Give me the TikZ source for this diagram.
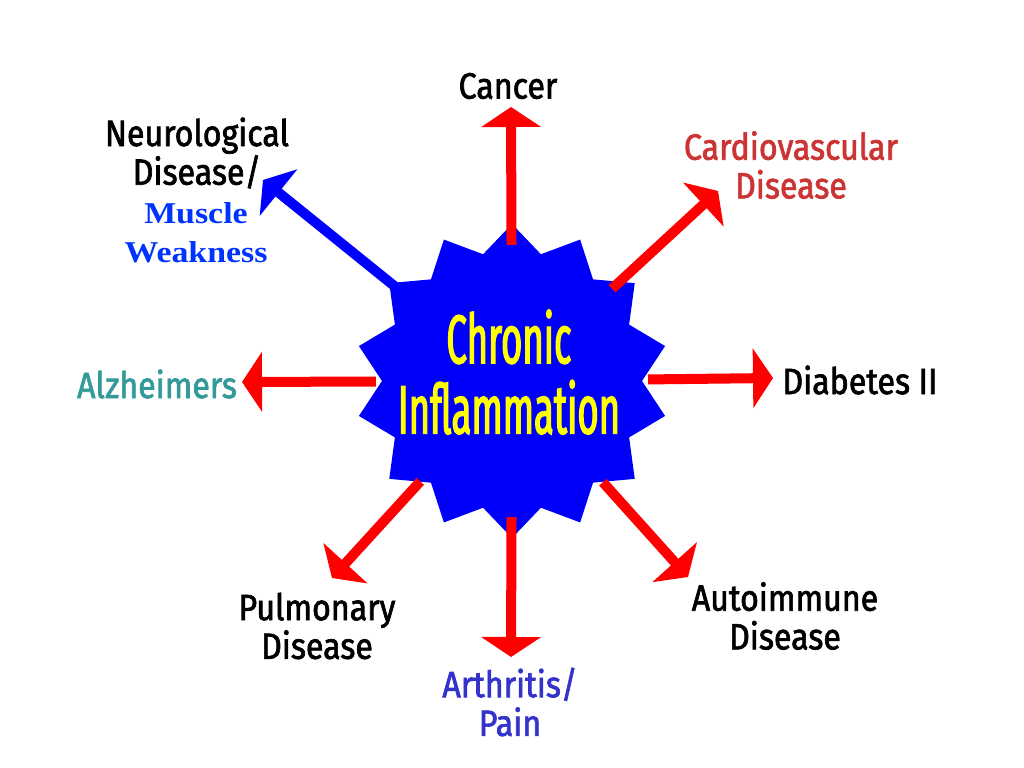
\documentclass[tikz,border=0pt]{standalone}
\usepackage{fontspec}
\setmainfont{Fira Sans}
\newfontfamily\labelfont{Fira Sans}[FakeStretch=0.88,FakeBold=1.8]
\newfontfamily\hubfont{Fira Sans}[FakeStretch=0.53,FakeBold=1.8]
\newfontfamily\weakfont{Liberation Serif}[FakeStretch=1.12]
\usetikzlibrary{arrows.meta}

\definecolor{starblue}{RGB}{0,0,250}
\definecolor{cardred}{RGB}{204,51,51}
\definecolor{alzteal}{RGB}{51,153,153}
\definecolor{arthblue}{RGB}{51,51,204}
\definecolor{weakblue}{RGB}{0,51,255}
\definecolor{hubyellow}{RGB}{255,255,0}

\tikzset{
  ill/.style={font=\labelfont\fontsize{26}{27.5}\selectfont, align=center, inner sep=0pt},
  link/.style={line width=0.25cm, draw=red, -{Triangle[length=0.5cm,width=1.475cm]},
    shorten <=3.4cm},
}

\begin{document}
\begin{tikzpicture}[x=0.025cm,y=-0.025cm]
  \useasboundingbox (0,0) rectangle (1024,768);
  % the burst, 14 points
  \coordinate (hub) at (512,381);
  \fill[starblue, shift={(hub)}] (90:157)
    \foreach \i in {1,...,27} { -- ({90+\i*360/28}:{ifthenelse(mod(\i,2)==0,157,130)}) }
    -- cycle;

  % labels
  \node[ill] (cancer) at (508,86) {Cancer};
  \node[ill] (neuro) at (197,153) {Neurological\\Disease/};
  \node[ill, font=\weakfont\bfseries\fontsize{21.5}{28}\selectfont, text=weakblue]
    (muscle) at (196,233) {Muscle\\Weakness};
  \node[ill, text=cardred] (cardio) at (791,165) {Cardiovascular\\Disease};
  \node[ill, text=alzteal] (alz) at (157,384) {Alzheimers};
  \node[ill] (diab) at (860,380) {Diabetes II};
  \node[ill] (pulm) at (317,626) {Pulmonary\\Disease};
  \node[ill, text=arthblue] (arth) at (510,702) {Arthritis/\\Pain};
  \node[ill] (auto) at (785,616) {Autoimmune\\Disease};

  % arrow tips
  \coordinate (tipCancer) at (511,107);
  \coordinate (tipNeuro) at (263,180);
  \coordinate (tipCardio) at (718,191);
  \coordinate (tipAlz) at (242,382);
  \coordinate (tipDiab) at (773,378);
  \coordinate (tipPulm) at (332,578);
  \coordinate (tipArth) at (511,657);
  \coordinate (tipAuto) at (688,577);

  \foreach \t in {Cancer,Cardio,Alz,Diab,Pulm,Arth,Auto}
    \draw[link] (hub) -- (tip\t);
  \draw[link, draw=blue, fill=blue] (hub) -- (tipNeuro);

  \node[font=\hubfont\fontsize{49}{50}\selectfont, text=hubyellow, align=center,
    inner sep=0pt] (chronic) at (509,372) {Chronic\\Inflammation};
\end{tikzpicture}
\end{document}
